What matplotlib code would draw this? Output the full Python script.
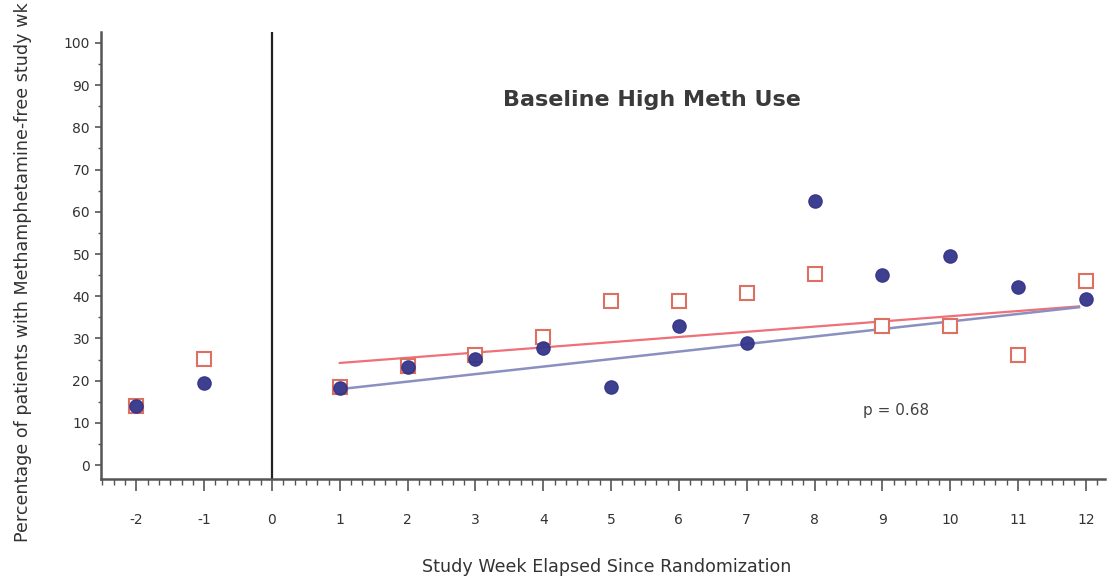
import matplotlib
matplotlib.use("Agg")
import matplotlib.pyplot as plt
from matplotlib.ticker import MultipleLocator


# Data
weeks = [-2, -1, 1, 2, 3, 4, 5, 6, 7, 8, 9, 10, 11, 12]
treatment = [14, 19.5, 18.2, 23.2, 25.2, 27.8, 18.6, 33.0, 29.0, 62.6, 45.0, 49.6, 42.3, 39.4]
placebo = [14, 25.2, 18.4, 23.4, 26.2, 30.3, 38.8, 38.9, 40.8, 45.2, 33.0, 33.0, 26.2, 43.6]

trend_weeks = [1, 11.9]
trend_treatment = [18.0, 37.4]
trend_placebo = [24.2, 37.6]

x_ticks = list(range(-2, 13))
y_ticks = list(range(0, 101, 10))


# Style
navy = "#34348a"
line_blue = "#8a90c0"
red = "#de7062"
line_red = "#ee7078"
axis_grey = "#555555"
text_dark = "#333333"

plt.rcParams['font.family'] = ['DejaVu Sans']
plt.rcParams['axes.unicode_minus'] = False

fig = plt.figure(figsize=(11.11, 5.8), dpi=100, facecolor="white")
ax = fig.add_axes([0.091, 0.174, 0.904, 0.771])

# Points
ax.plot(weeks, placebo, linestyle='none', marker='s', markersize=10,
        markerfacecolor='white', markeredgecolor=red, markeredgewidth=1.5, zorder=3)
ax.plot(weeks, treatment, linestyle='none', marker='o', markersize=9.5,
        color=navy, alpha=0.95, zorder=4)

# Trend lines
ax.plot(trend_weeks, trend_placebo, color=line_red, lw=1.6, zorder=2)
ax.plot(trend_weeks, trend_treatment, color=line_blue, lw=1.8, zorder=2)

# Randomization line
ax.axvline(0, color="#222222", lw=1.6, zorder=1)

# Text
ax.text(5.6, 86.5, "Baseline High Meth Use", ha='center', va='center',
        fontsize=16, fontweight='bold', color="#3a3a3a")
ax.text(9.2, 13, "p = 0.68", ha='center', va='center', fontsize=11, color="#444444")

ax.set_xlabel("Study Week Elapsed Since Randomization", fontsize=12.6,
              color=text_dark)
ax.xaxis.set_label_coords(0.503, -0.176)
ax.set_ylabel("Percentage of patients with Methamphetamine-free study wk",
              fontsize=12.6, color=text_dark)
ax.yaxis.set_label_coords(-0.069, 0.462)

# Axes
ax.set_xlim(-2.52, 12.29)
ax.set_ylim(-3.3, 102.6)
ax.set_xticks(x_ticks)
ax.set_yticks(y_ticks)
ax.xaxis.set_minor_locator(MultipleLocator(1 / 6))
ax.yaxis.set_minor_locator(MultipleLocator(5))
ax.tick_params(axis='both', which='major', direction='out', width=1.2,
               colors=axis_grey, labelcolor=text_dark, labelsize=10)
ax.tick_params(axis='x', which='major', length=8.5, pad=16)
ax.tick_params(axis='y', which='major', length=4, pad=4)
ax.tick_params(axis='x', which='minor', direction='out', length=4.5, width=1.0,
               colors=axis_grey)
ax.tick_params(axis='y', which='minor', direction='out', length=2.5, width=1.0,
               colors=axis_grey)

for side in ['top', 'right']:
    ax.spines[side].set_visible(False)
for side in ['left', 'bottom']:
    ax.spines[side].set_color(axis_grey)
    ax.spines[side].set_linewidth(1.8)

fig.savefig("out.png", dpi=100, facecolor="white")
